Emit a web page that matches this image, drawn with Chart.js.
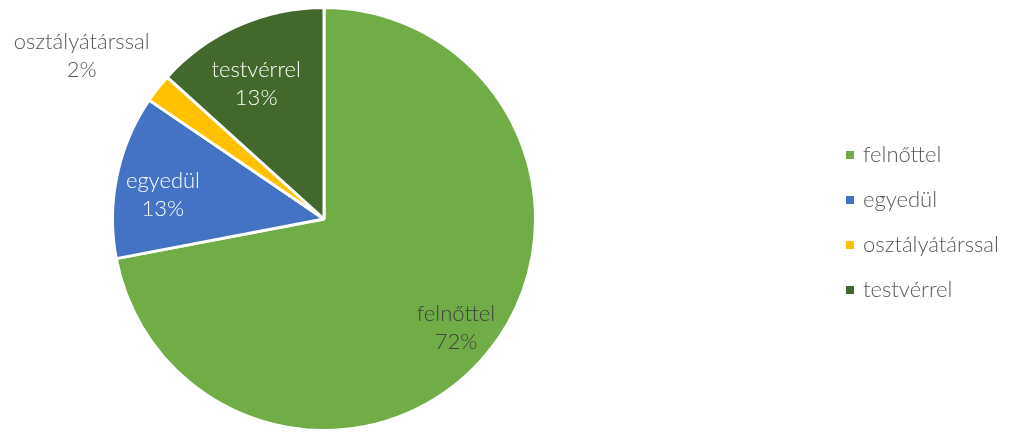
<!DOCTYPE html>
<html>
<head>
<meta charset="utf-8">
<script src="https://cdn.jsdelivr.net/npm/chart.js@4"></script>
<style>
  html, body { margin: 0; padding: 0; background: #fff; }
  #wrap { width: 1011px; height: 432px; }
</style>
</head>
<body>
<div id="wrap"><canvas id="pieChart" width="1011" height="432"></canvas></div>
<script>
const labels = ["felnőttel", "egyedül", "osztályátárssal", "testvérrel"]
const values = [72, 12.5, 2.2, 13.3]
const colors = ["#70AD47", "#4472C4", "#FFC000", "#43682B"]
const labelColors = ["#404040", "#FFFFFF", "#595959", "#FFFFFF"]

const FONT = "Lato, 'Open Sans', sans-serif"
const FONT_SIZE = 22
const FONT_WEIGHT = 300

// label placement relative to each slice (radius factor, angle nudge in degrees)
const labelRadius = [0.81, 0.77, 1.38, 0.715]
const labelNudge = [0, -3.2, -4.3, -2.7]

const sliceLabels = {
  id: "sliceLabels",
  afterDatasetsDraw(chart) {
    const meta = chart.getDatasetMeta(0)
    const total = values.reduce((a, b) => a + b, 0)
    const ctx = chart.ctx
    ctx.save()
    ctx.font = `${FONT_WEIGHT} ${FONT_SIZE}px ${FONT}`
    ctx.textAlign = "center"
    ctx.textBaseline = "middle"
    meta.data.forEach((arc, i) => {
      const p = arc.getProps(["x", "y", "startAngle", "endAngle", "outerRadius"], true)
      const mid = (p.startAngle + p.endAngle) / 2 + labelNudge[i] * Math.PI / 180
      const r = p.outerRadius * labelRadius[i]
      const x = p.x + Math.cos(mid) * r
      const y = p.y + Math.sin(mid) * r
      const pct = Math.round(values[i] / total * 100) + "%"
      ctx.fillStyle = labelColors[i]
      ctx.fillText(labels[i], x, y - 14)
      ctx.fillText(pct, x, y + 14)
    })
    ctx.restore()
  }
}

// legend on the right
const sideLegend = {
  id: "sideLegend",
  afterDraw(chart) {
    const ctx = chart.ctx
    ctx.save()
    ctx.font = `${FONT_WEIGHT} ${FONT_SIZE}px ${FONT}`
    ctx.textBaseline = "middle"
    labels.forEach((lab, i) => {
      const y = 155 + i * 45
      ctx.fillStyle = colors[i]
      ctx.fillRect(846, y - 4, 8, 8)
      ctx.fillStyle = "#595959"
      ctx.fillText(lab, 863, y)
    })
    ctx.restore()
  }
}

new Chart(document.getElementById("pieChart").getContext("2d"), {
  type: "pie",
  data: {
    labels,
    datasets: [{
      data: values,
      backgroundColor: colors,
      borderColor: "#FFFFFF",
      borderWidth: 3
    }]
  },
  options: {
    responsive: false,
    animation: false,
    layout: { padding: { left: 108, right: 471, top: 6, bottom: -5 } },
    plugins: {
      legend: { display: false },
      tooltip: { enabled: false }
    }
  },
  plugins: [sliceLabels, sideLegend]
})
</script>
</body>
</html>
